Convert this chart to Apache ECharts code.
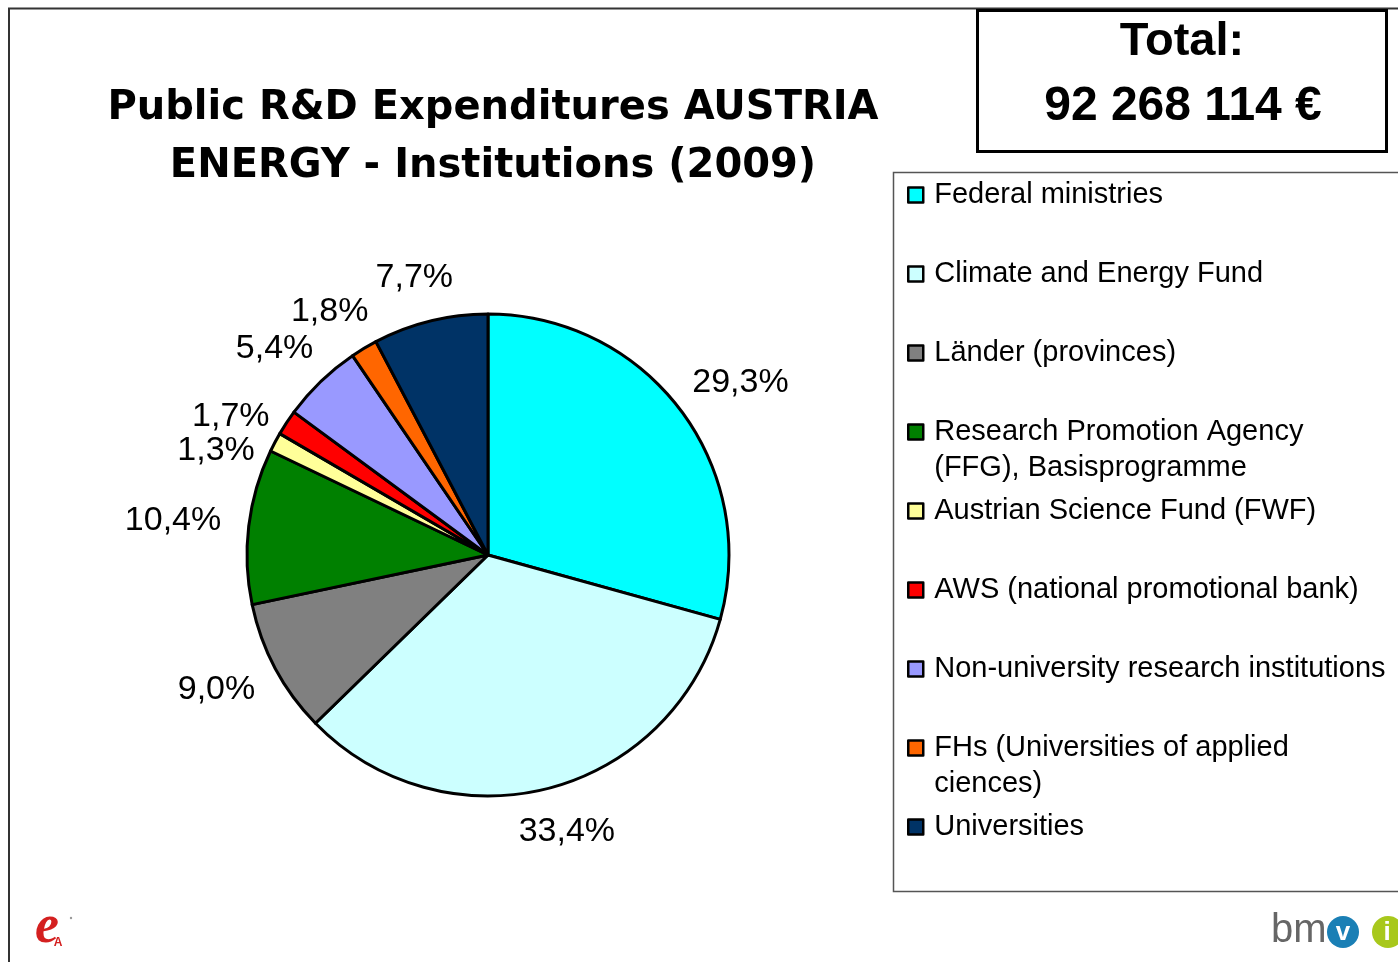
<!DOCTYPE html>
<html>
<head>
<meta charset="utf-8">
<title>Public R&amp;D Expenditures AUSTRIA</title>
<script src="https://cdn.jsdelivr.net/npm/echarts@6/dist/echarts.min.js"></script>
<style>
  html, body { margin: 0; padding: 0; background: #fff; }
  #chart { width: 1398px; height: 962px; }
</style>
</head>
<body>
<div id="chart"></div>
<script>
// institutions, in legend order (pie runs clockwise from 12 o'clock)
var categories = [
  "Federal ministries",
  "Climate and Energy Fund",
  "Länder (provinces)",
  "Research Promotion Agency\n(FFG), Basisprogramme",
  "Austrian Science Fund (FWF)",
  "AWS (national promotional bank)",
  "Non-university research institutions",
  "FHs (Universities of applied\nciences)",
  "Universities"
];
// share of total, in %
var shares = [29.3, 33.4, 9.0, 10.4, 1.3, 1.7, 5.4, 1.8, 7.7];
var colors = ["#00ffff", "#ccffff", "#808080", "#008000", "#ffff99", "#ff0000", "#9999ff", "#ff6600", "#003366"];
var titleLines = ["Public R&D Expenditures AUSTRIA", "ENERGY - Institutions (2009)"];
var totalLines = ["Total:", "92 268 114 €"];

var pieCenter = [488, 555];
var pieRadius = 241;
var labelGap = 28;

var total = 0;
var startShare = shares.map(function (v) {
  var s = total;
  total += v;
  return s;
});

var chart = echarts.init(document.getElementById("chart"));

// one legend per entry so the entries keep the slide's even spacing;
// icon sits next to the first line of a wrapped name
var legendLine = 36;
var iconSize = 15;
var legends = categories.map(function (name, i) {
  var lines = name.split("\n").length;
  var mid = 195 + i * 79;
  var h = iconSize + (lines - 1) * legendLine;
  return {
    data: [name],
    left: 907,
    top: mid - legendLine / 2,
    padding: 0,
    icon: lines > 1
      ? "path://M0,0L15,0L15,15L0,15Z M0," + h + "L0.001," + h
      : "rect",
    itemWidth: iconSize,
    itemHeight: h,
    itemStyle: { borderColor: "#000", borderWidth: 2.5 },
    selectedMode: false,
    textStyle: {
      fontFamily: "Liberation Sans",
      fontSize: 29,
      lineHeight: legendLine,
      color: "#000",
      padding: [0, 0, 0, 6]
    }
  };
});

var option = {
  animation: false,
  backgroundColor: "#fff",
  title: {
    text: titleLines.join("\n"),
    left: 488,
    top: 75,
    textAlign: "center",
    textStyle: {
      fontFamily: "DejaVu Sans",
      fontWeight: "bold",
      fontSize: 40,
      lineHeight: 58,
      color: "#000"
    }
  },
  legend: legends,
  graphic: [
    {
      type: "polyline",
      shape: { points: [[9, 962], [9, 8.5], [1398, 8.5]] },
      style: { stroke: "#333", lineWidth: 2, fill: null }
    },
    {
      type: "rect",
      shape: { x: 893.5, y: 172.5, width: 520, height: 719 },
      style: { stroke: "#555", lineWidth: 1.5, fill: null }
    },
    {
      type: "rect",
      shape: { x: 977.5, y: 10.5, width: 409, height: 141 },
      style: { stroke: "#000", lineWidth: 3, fill: "#fff" }
    },
    {
      type: "text",
      x: 1182,
      y: 42,
      style: {
        text: totalLines[0],
        font: "bold 47px 'Liberation Sans'",
        fill: "#000",
        align: "center",
        verticalAlign: "middle"
      }
    },
    {
      type: "text",
      x: 1183,
      y: 107,
      style: {
        text: totalLines[1],
        font: "bold 48px 'Liberation Sans'",
        fill: "#000",
        align: "center",
        verticalAlign: "middle"
      }
    },
    // eA logo, bottom left
    {
      type: "text",
      x: 47,
      y: 928,
      style: {
        text: "e",
        font: "italic bold 54px 'Liberation Serif'",
        fill: "#d42020",
        align: "center",
        verticalAlign: "middle"
      }
    },
    {
      type: "text",
      x: 58,
      y: 943,
      style: {
        text: "A",
        font: "bold 12px 'Liberation Sans'",
        fill: "#d42020",
        align: "center",
        verticalAlign: "middle"
      }
    },
    {
      type: "circle",
      shape: { cx: 71, cy: 918, r: 1.2 },
      style: { fill: "#999" }
    },
    // bmvit logo, bottom right
    {
      type: "text",
      x: 1271,
      y: 931,
      style: {
        text: "bm",
        font: "40px 'Liberation Sans'",
        fill: "#666",
        align: "left",
        verticalAlign: "middle"
      }
    },
    {
      type: "circle",
      shape: { cx: 1343, cy: 932, r: 16 },
      style: { fill: "#1a7fb5" }
    },
    {
      type: "text",
      x: 1343,
      y: 933,
      style: {
        text: "v",
        font: "bold 26px 'Liberation Sans'",
        fill: "#fff",
        align: "center",
        verticalAlign: "middle"
      }
    },
    {
      type: "circle",
      shape: { cx: 1388, cy: 932, r: 16 },
      style: { fill: "#a8c81c" }
    },
    {
      type: "text",
      x: 1387,
      y: 933,
      style: {
        text: "i",
        font: "bold 26px 'Liberation Sans'",
        fill: "#fff",
        align: "center",
        verticalAlign: "middle"
      }
    }
  ],
  series: [
    {
      type: "pie",
      center: pieCenter,
      radius: pieRadius,
      startAngle: 90,
      clockwise: true,
      data: categories.map(function (name, i) {
        return { name: name, value: shares[i], itemStyle: { color: colors[i] } };
      }),
      itemStyle: { borderColor: "#000", borderWidth: 3 },
      label: {
        show: true,
        position: "outside",
        formatter: function (p) {
          return p.value.toFixed(1).replace(".", ",") + "%";
        },
        fontFamily: "Liberation Sans",
        fontSize: 34,
        color: "#000",
        padding: [5, 0, 5, 0]
      },
      labelLine: { show: false },
      // put each label just outside the rim, on the ray through the slice middle
      labelLayout: function (params) {
        var i = params.dataIndex;
        var a = ((startShare[i] + shares[i] / 2) / total) * 2 * Math.PI;
        var dx = Math.sin(a);
        var dy = -Math.cos(a);
        var r = pieRadius + labelGap;
        return {
          x: pieCenter[0] + dx * (r + params.labelRect.width / 2),
          y: pieCenter[1] + dy * (r + params.labelRect.height / 2),
          align: "center",
          verticalAlign: "middle",
          moveOverlap: "shiftY"
        };
      },
      emphasis: { disabled: true }
    }
  ]
};

chart.setOption(option);
</script>
</body>
</html>
